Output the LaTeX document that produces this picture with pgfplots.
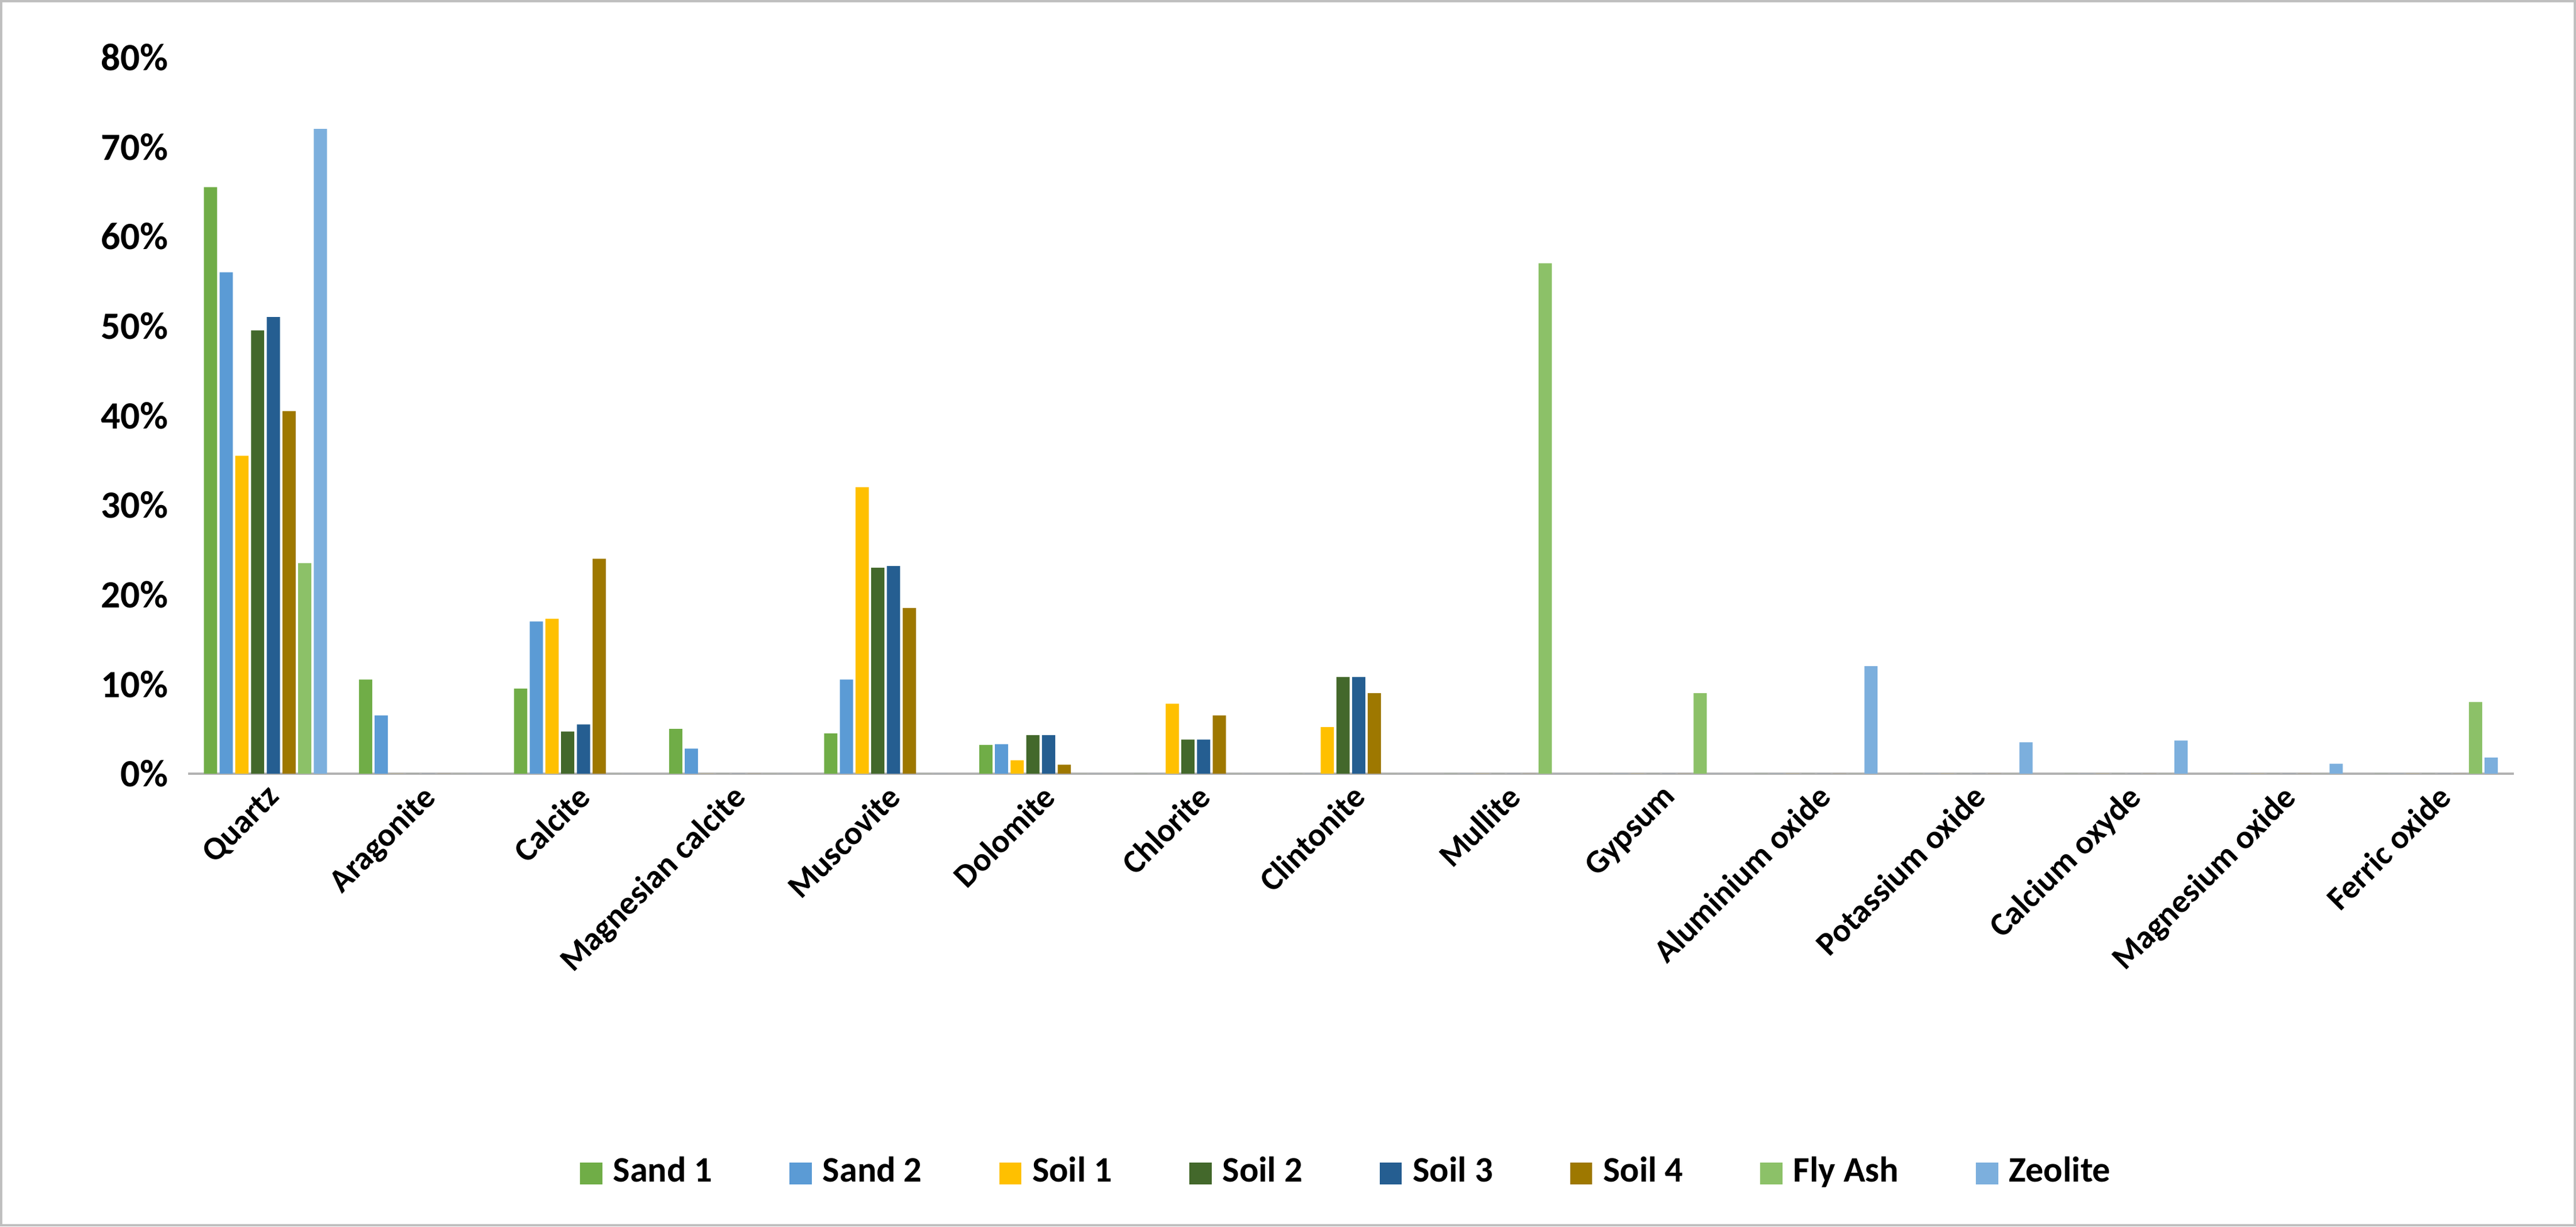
\documentclass[border=0pt]{standalone}
\usepackage{pgfplots}
\pgfplotsset{compat=1.18}
\usepackage{fontspec}
\setmainfont{Carlito}
\definecolor{c1}{HTML}{70AD47}
\definecolor{c2}{HTML}{5B9BD5}
\definecolor{c3}{HTML}{FFC000}
\definecolor{c4}{HTML}{43682B}
\definecolor{c5}{HTML}{255E91}
\definecolor{c6}{HTML}{9E7800}
\definecolor{c7}{HTML}{8CC168}
\definecolor{c8}{HTML}{7CAFDD}
\begin{document}
\begin{tikzpicture}
\draw[gray!50,line width=0.4pt] (-33.9pt,-82pt) rectangle (433.1pt,140.2pt);
\begin{axis}[at={(14.07pt,0)},anchor=origin,
 scale only axis, width=422pt, height=130pt,
 ybar=0.45pt, bar width=2.4pt,
 xmin=-0.5, xmax=14.5, ymin=0, ymax=80,
 xtick={0,...,14},
 xticklabels={Quartz,Aragonite,Calcite,Magnesian calcite,Muscovite,Dolomite,Chlorite,Clintonite,Mullite,Gypsum,Aluminium oxide,Potassium oxide,Calcium oxyde,Magnesium oxide,Ferric oxide},
 x tick label style={rotate=45,anchor=north east,inner sep=1pt,font=\fontsize{6}{7}\selectfont\bfseries},
 ytick={0,10,...,80},
 yticklabel={\pgfmathprintnumber{\tick}\%},
 y tick label style={font=\fontsize{7}{8}\selectfont\bfseries},
 /pgf/number format/assume math mode=true,
 axis y line*=left, axis x line*=bottom,
 y axis line style={draw=none},
 x axis line style={gray!60},
 major tick length=0pt,
 every axis plot/.append style={draw=none},
 legend columns=8,
 legend style={at={(0.5,-0.558)},anchor=center,draw=none,font=\fontsize{6.5}{7}\selectfont\bfseries,
   /tikz/every even column/.append style={column sep=12pt}},
 legend image code/.code={\fill[#1] (0,-2pt) rectangle (4pt,2pt);},
]
\addplot[fill=c1] coordinates {(0,65.5)(1,10.5)(2,9.5)(3,5)(4,4.5)(5,3.2)(6,0)(7,0)(8,0)(9,0)(10,0)(11,0)(12,0)(13,0)(14,0)};
\addplot[fill=c2] coordinates {(0,56)(1,6.5)(2,17)(3,2.8)(4,10.5)(5,3.3)(6,0)(7,0)(8,0)(9,0)(10,0)(11,0)(12,0)(13,0)(14,0)};
\addplot[fill=c3] coordinates {(0,35.5)(1,0)(2,17.3)(3,0)(4,32)(5,1.5)(6,7.8)(7,5.2)(8,0)(9,0)(10,0)(11,0)(12,0)(13,0)(14,0)};
\addplot[fill=c4] coordinates {(0,49.5)(1,0)(2,4.7)(3,0)(4,23)(5,4.3)(6,3.8)(7,10.8)(8,0)(9,0)(10,0)(11,0)(12,0)(13,0)(14,0)};
\addplot[fill=c5] coordinates {(0,51)(1,0)(2,5.5)(3,0)(4,23.2)(5,4.3)(6,3.8)(7,10.8)(8,0)(9,0)(10,0)(11,0)(12,0)(13,0)(14,0)};
\addplot[fill=c6] coordinates {(0,40.5)(1,0)(2,24)(3,0)(4,18.5)(5,1.0)(6,6.5)(7,9)(8,0)(9,0)(10,0)(11,0)(12,0)(13,0)(14,0)};
\addplot[fill=c7] coordinates {(0,23.5)(1,0)(2,0)(3,0)(4,0)(5,0)(6,0)(7,0)(8,57)(9,9)(10,0)(11,0)(12,0)(13,0)(14,8)};
\addplot[fill=c8] coordinates {(0,72)(1,0)(2,0)(3,0)(4,0)(5,0)(6,0)(7,0)(8,0)(9,0)(10,12)(11,3.5)(12,3.7)(13,1.1)(14,1.8)};
\legend{Sand 1,Sand 2,Soil 1,Soil 2,Soil 3,Soil 4,Fly Ash,Zeolite}
\end{axis}
\end{tikzpicture}
\end{document}
